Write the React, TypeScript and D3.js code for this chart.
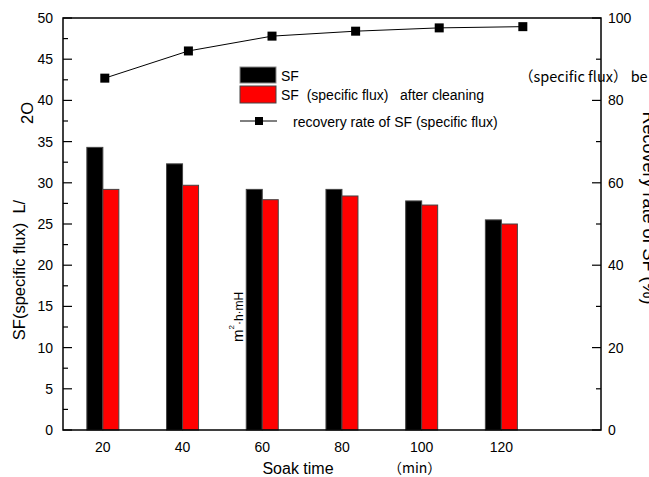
import React from "react";
import * as d3 from "d3";

const soakTimes = [20, 40, 60, 80, 100, 120];
const sfBefore = [34.3, 32.3, 29.2, 29.2, 27.8, 25.5];
const sfAfter = [29.2, 29.7, 27.95, 28.4, 27.3, 25.0];
const recoveryRate = [85.4, 92.0, 95.6, 96.8, 97.6, 97.9];
const leftTicks = [0, 5, 10, 15, 20, 25, 30, 35, 40, 45, 50];
const rightTicks = [0, 20, 40, 60, 80, 100];

const W = 649, H = 477;
const L = 63, R = 601, T = 18, B = 430;
const FONT = "'Liberation Sans', Arial, sans-serif";
const CJK = "'Noto Sans CJK JP', sans-serif";

export default function App() {
  const xBar = d3.scaleLinear().domain([10, 145]).range([L, R]);
  const xLine = d3.scaleLinear().domain([10, 138.7]).range([L, R]);
  const yL = d3.scaleLinear().domain([0, 50]).range([B, T]);
  const yR = d3.scaleLinear().domain([0, 100]).range([B, T]);
  const bw = 16;
  const leftMinor = d3.range(0, 50.01, 2.5);
  const rightMinor = d3.range(0, 100.01, 10);
  const line = d3
    .line<number>()
    .x((_, i) => xLine(soakTimes[i]))
    .y((d) => yR(d));

  return (
    <svg
      width={W}
      height={H}
      style={{ position: "absolute", left: 0, top: 0, background: "#fff" }}
      fontFamily={FONT}
    >
      <rect x={0} y={0} width={W} height={H} fill="#fff" />
      {/* bars */}
      {soakTimes.map((t, i) => (
        <g key={t}>
          <rect
            x={xBar(t) - bw}
            y={yL(sfBefore[i])}
            width={bw}
            height={B - yL(sfBefore[i])}
            fill="#000"
            stroke="#444"
            strokeWidth={1}
          />
          <rect
            x={xBar(t)}
            y={yL(sfAfter[i])}
            width={bw}
            height={B - yL(sfAfter[i])}
            fill="#ff0000"
            stroke="#444"
            strokeWidth={1}
          />
          <text x={xBar(t)} y={452} fontSize={14} textAnchor="middle">
            {t}
          </text>
        </g>
      ))}
      {/* line */}
      <path d={line(recoveryRate) || ""} fill="none" stroke="#000" strokeWidth={1} />
      {recoveryRate.map((v, i) => (
        <rect
          key={i}
          x={xLine(soakTimes[i]) - 4.5}
          y={yR(v) - 4.5}
          width={9}
          height={9}
          fill="#000"
        />
      ))}
      {/* frame */}
      <rect x={L} y={T} width={R - L} height={B - T} fill="none" stroke="#000" strokeWidth={1.5} />
      {/* left ticks */}
      {leftMinor.map((v) => (
        <line
          key={"lm" + v}
          x1={L}
          x2={L + (v % 5 === 0 ? 9 : 5)}
          y1={yL(v)}
          y2={yL(v)}
          stroke="#000"
          strokeWidth={1.2}
        />
      ))}
      {leftTicks.map((v) => (
        <text key={"lt" + v} x={53} y={yL(v) + 5} fontSize={14} textAnchor="end">
          {v}
        </text>
      ))}
      {/* right ticks */}
      {rightMinor.map((v) => (
        <line
          key={"rm" + v}
          x1={R}
          x2={R - (v % 20 === 0 ? 9 : 5)}
          y1={yR(v)}
          y2={yR(v)}
          stroke="#000"
          strokeWidth={1.2}
        />
      ))}
      {rightTicks.map((v) => (
        <text key={"rt" + v} x={608} y={yR(v) + 5} fontSize={14} textAnchor="start">
          {v}
        </text>
      ))}
      {/* legend */}
      <rect x={240} y={67} width={36} height={16} fill="#000" stroke="#888" strokeWidth={1} />
      <rect x={240} y={86} width={36} height={17} fill="#ff0000" stroke="#444" strokeWidth={1} />
      <text x={281} y={81} fontSize={14}>SF</text>
      <text x={281} y={100} fontSize={14} style={{ whiteSpace: "pre" }}>
        {"SF  (specific flux)   after cleaning"}
      </text>
      <line x1={240} x2={277} y1={121} y2={121} stroke="#000" strokeWidth={1} />
      <rect x={255} y={117} width={8} height={8} fill="#000" />
      <text x={293} y={127} fontSize={14}>recovery rate of SF (specific flux)</text>
      <text x={519} y={82} fontSize={14.5} fontFamily={CJK} style={{ whiteSpace: "pre" }}>
        {"（specific flux） be"}
      </text>
      {/* axis titles */}
      <text x={0} y={0} fontSize={16.5} textAnchor="middle" style={{ whiteSpace: "pre" }}
        transform="translate(25,270) rotate(-90)">
        {"SF(specific flux)  L/"}
      </text>
      <text x={0} y={0} fontSize={16.5} textAnchor="middle" transform="translate(33,113) rotate(-90)">
        2O
      </text>
      <text x={0} y={0} textAnchor="start" transform="translate(243,342) rotate(-90)">
        <tspan fontSize={15}>m</tspan>
        <tspan fontSize={8} dy={-9}>2</tspan>
        <tspan fontSize={12} dy={9}>·h·mH</tspan>
      </text>
      <text x={0} y={0} fontSize={18} textAnchor="middle" transform="translate(643,208) rotate(90)">
        Recovery rate of SF (%)
      </text>
      <text x={298} y={474} fontSize={16} textAnchor="middle">Soak time</text>
      <text x={388} y={473} fontSize={14} fontFamily={CJK}>（min）</text>
    </svg>
  );
}
